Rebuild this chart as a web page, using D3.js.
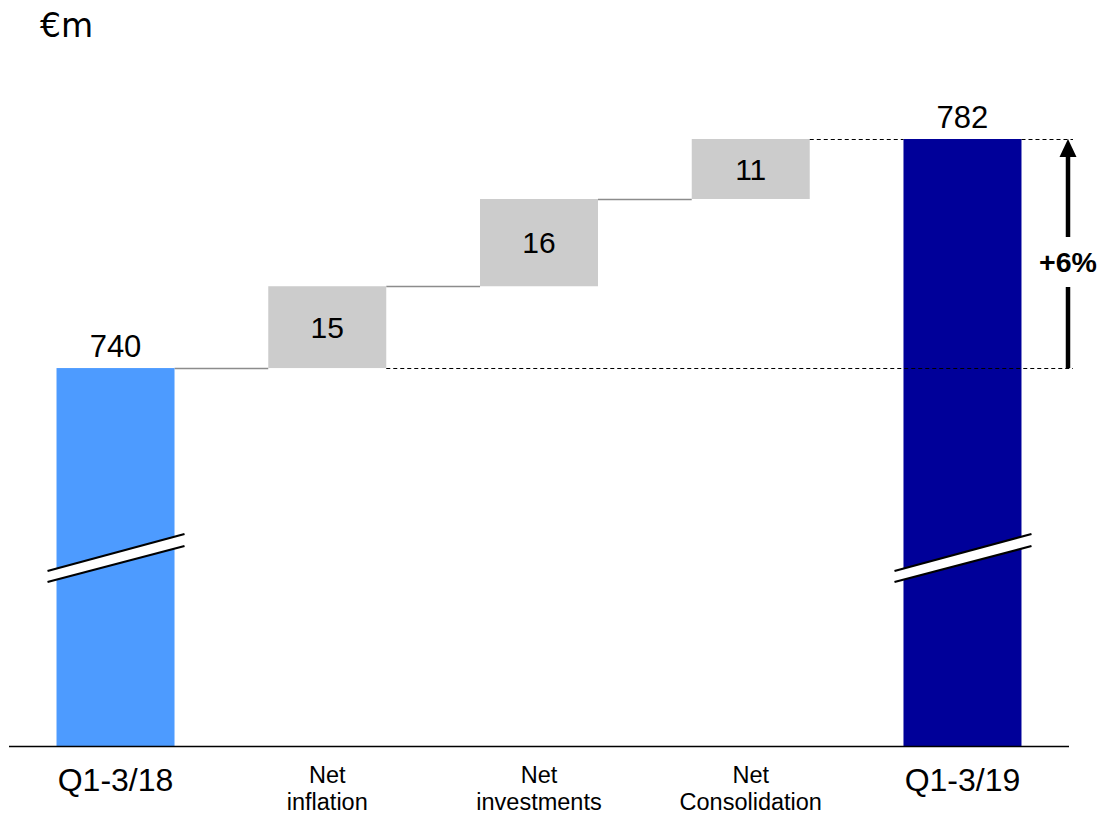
<!DOCTYPE html>
<html><head><meta charset="utf-8">
<script src="https://cdn.jsdelivr.net/npm/d3@7"></script>
<style>body{margin:0;background:#fff}</style>
</head><body>
<svg id="c" width="1103" height="814"></svg>
<script>
const categories = ["Q1-3/18", "Net\ninflation", "Net\ninvestments", "Net\nConsolidation", "Q1-3/19"];
const values = [740, 15, 16, 11, 782];
const kinds = ["total", "delta", "delta", "delta", "total"];
const changeLabel = "+6%";
const unitLabel = "€m";

const svg = d3.select("#c");
const font = "'Liberation Sans', Arial, sans-serif";

const x = d3.scaleBand().domain(categories).range([9, 1069]).paddingInner(0.4427).paddingOuter(0.2244);
const y = d3.scaleLinear().domain([670.7, 782]).range([746, 139]);
const cr = v => Math.round(y(v)) + 0.5;

let run = 0;
const segs = categories.map((c, i) => {
  let y0, y1;
  if (kinds[i] === "total") { y0 = y.domain()[0]; y1 = values[i]; run = values[i]; }
  else { y0 = run; y1 = run + values[i]; run = y1; }
  return {c, v: values[i], kind: kinds[i], y0, y1, i};
});
const colors = ["#4d9bff", "#cccccc", "#cccccc", "#cccccc", "#000099"];

svg.append("text").attr("x", 40).attr("y", 37).attr("font-family", "'DejaVu Sans', sans-serif")
  .attr("font-size", 33).text(unitLabel);

// connectors
for (let i = 0; i < segs.length - 2; i++) {
  const a = segs[i], b = segs[i + 1];
  const lvl = a.y1;
  svg.append("line").attr("x1", x(a.c) + x.bandwidth()).attr("x2", x(b.c))
    .attr("y1", cr(lvl)).attr("y2", cr(lvl))
    .attr("stroke", "#8c8c8c").attr("stroke-width", 1.5);
}

// bars
svg.selectAll("rect.bar").data(segs).join("rect").attr("class", "bar")
  .attr("x", d => x(d.c)).attr("width", x.bandwidth())
  .attr("y", d => y(Math.max(d.y0, d.y1))).attr("height", d => Math.abs(y(d.y0) - y(d.y1)))
  .attr("fill", (d, i) => colors[i]);

// dashed reference lines
const xEnd = 1073;
const dash = "4,3";
svg.append("line").attr("x1", x(categories[1]) + x.bandwidth()).attr("x2", xEnd)
  .attr("y1", cr(values[0])).attr("y2", cr(values[0]))
  .attr("stroke", "#000").attr("stroke-width", 1.2).attr("stroke-dasharray", dash);
svg.append("line").attr("x1", x(categories[3]) + x.bandwidth()).attr("x2", x(categories[4]))
  .attr("y1", cr(values[4])).attr("y2", cr(values[4]))
  .attr("stroke", "#000").attr("stroke-width", 1.2).attr("stroke-dasharray", dash);
svg.append("line").attr("x1", x(categories[4]) + x.bandwidth()).attr("x2", xEnd)
  .attr("y1", cr(values[4])).attr("y2", cr(values[4]))
  .attr("stroke", "#000").attr("stroke-width", 1.2).attr("stroke-dasharray", dash);

// value labels
segs.forEach(d => {
  const cx = x(d.c) + x.bandwidth() / 2;
  if (d.kind === "total") {
    svg.append("text").attr("x", cx).attr("y", y(d.y1) - 11).attr("text-anchor", "middle")
      .attr("font-family", font).attr("font-size", 31).text(d.v);
  } else {
    svg.append("text").attr("x", cx).attr("y", (y(d.y0) + y(d.y1)) / 2).attr("dy", "0.36em")
      .attr("text-anchor", "middle").attr("font-family", font).attr("font-size", 30).text(d.v);
  }
});

// break marks
[0, 4].forEach(i => {
  const bx = x(categories[i]);
  const xl = bx - 9, xr = bx + x.bandwidth() + 10;
  const g = svg.append("g");
  g.append("polygon").attr("points", `${xl},571 ${xr},534 ${xr},546 ${xl},582`).attr("fill", "#fff");
  g.append("line").attr("x1", xl).attr("y1", 571).attr("x2", xr).attr("y2", 534).attr("stroke", "#000").attr("stroke-width", 2.2);
  g.append("line").attr("x1", xl).attr("y1", 582).attr("x2", xr).attr("y2", 546).attr("stroke", "#000").attr("stroke-width", 2.2);
});

// axis baseline
svg.append("line").attr("x1", 9).attr("x2", 1069).attr("y1", 746.5).attr("y2", 746.5)
  .attr("stroke", "#000").attr("stroke-width", 1.5);

// category labels
segs.forEach(d => {
  const cx = x(d.c) + x.bandwidth() / 2;
  const lines = d.c.split("\n");
  if (d.kind === "total") {
    svg.append("text").attr("x", cx).attr("y", 791).attr("text-anchor", "middle")
      .attr("font-family", font).attr("font-size", 32).text(d.c);
  } else {
    lines.forEach((l, j) => svg.append("text").attr("x", cx).attr("y", 783 + j * 27)
      .attr("text-anchor", "middle").attr("font-family", font).attr("font-size", 23.5).text(l));
  }
});

// arrow
const ax = 1068;
svg.append("line").attr("x1", ax).attr("x2", ax).attr("y1", y(values[4]) + 14).attr("y2", 237)
  .attr("stroke", "#000").attr("stroke-width", 4.5);
svg.append("line").attr("x1", ax).attr("x2", ax).attr("y1", 287).attr("y2", y(values[0]))
  .attr("stroke", "#000").attr("stroke-width", 4.5);
svg.append("polygon").attr("points", `${ax},${y(values[4])} ${ax - 8.5},${y(values[4]) + 18} ${ax + 8.5},${y(values[4]) + 18}`)
  .attr("fill", "#000");
svg.append("text").attr("x", ax).attr("y", 262).attr("dy", "0.35em").attr("text-anchor", "middle")
  .attr("font-family", font).attr("font-weight", "bold").attr("font-size", 28.5).text(changeLabel);
</script>
</body></html>
